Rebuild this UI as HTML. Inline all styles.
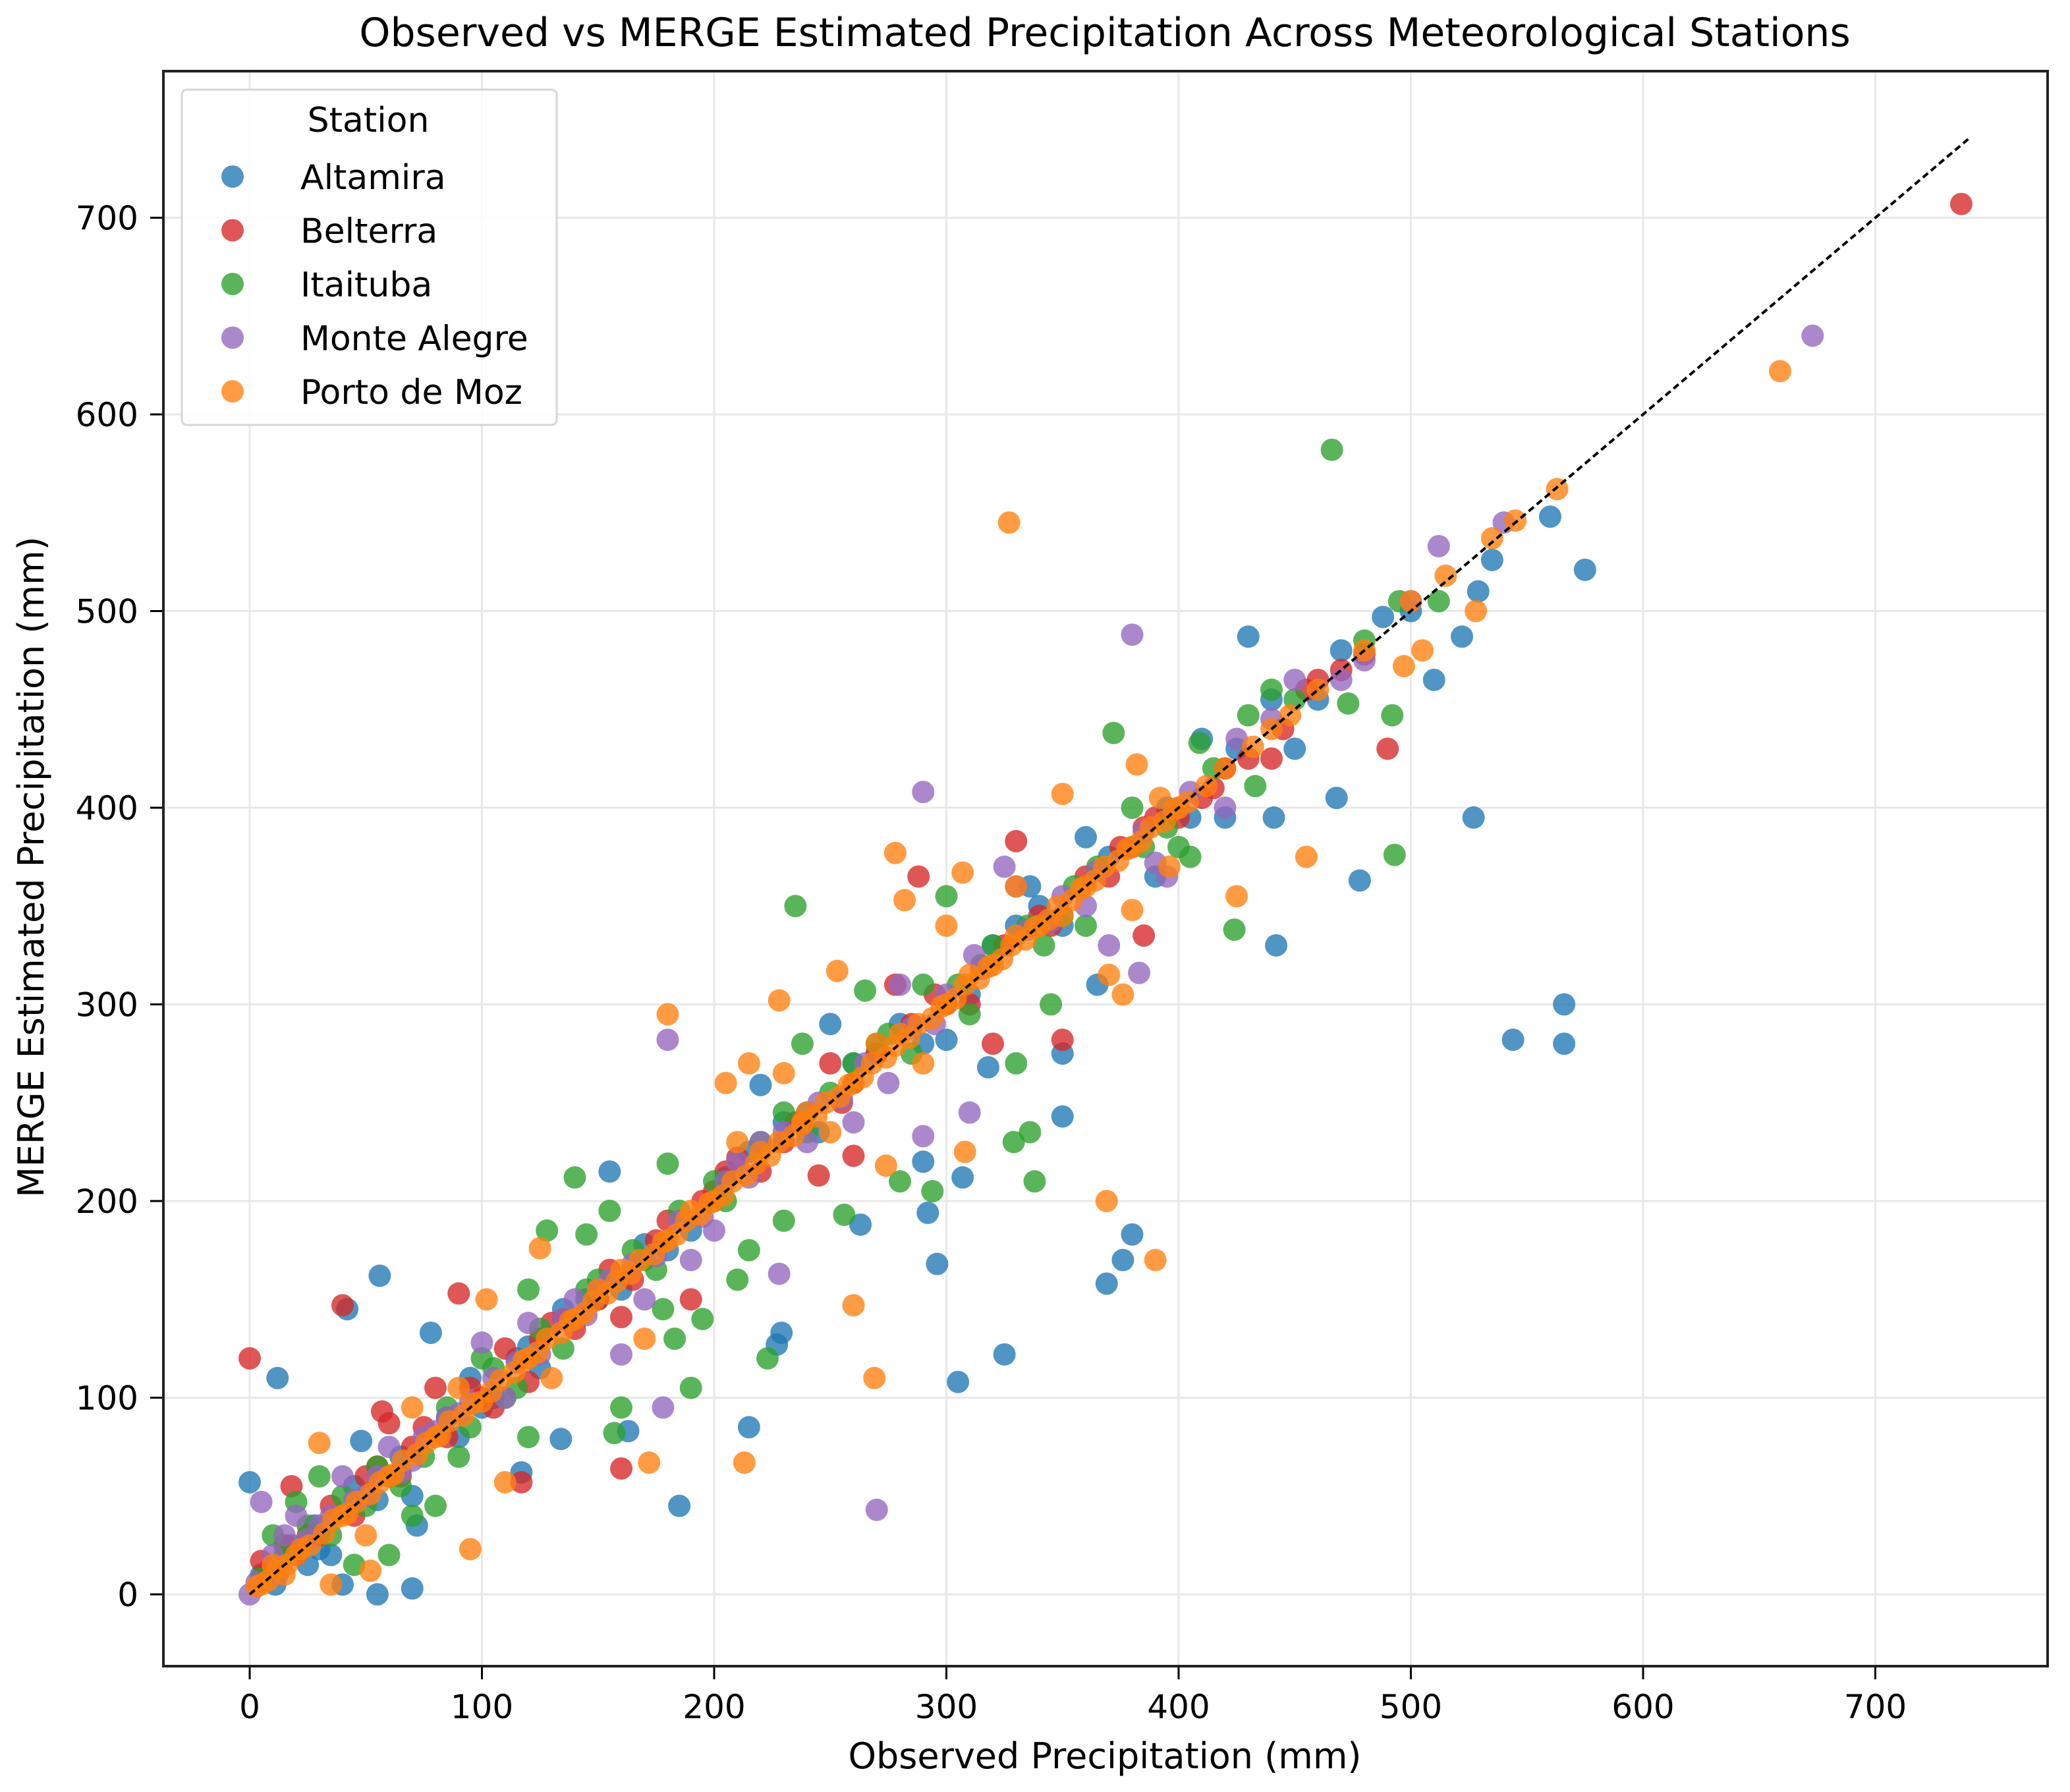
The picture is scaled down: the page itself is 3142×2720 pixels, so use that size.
<!DOCTYPE html>
<html><head><meta charset="utf-8"><style>
html,body{margin:0;padding:0;background:#fff}
svg{display:block;font-family:"DejaVu Sans","Liberation Sans",sans-serif}
</style></head><body>
<svg id="chart" width="3142" height="2720" viewBox="0 0 3142 2720" xmlns="http://www.w3.org/2000/svg">
<rect width="3142" height="2720" fill="#fff"/>
<text x="1677" y="70" font-size="60" text-anchor="middle" fill="#000">Observed vs MERGE Estimated Precipitation Across Meteorological Stations</text>
<g id="grid"></g>
<g id="marks"></g>
<g id="axes"></g>
<text x="1677" y="2684" font-size="54" text-anchor="middle" fill="#000">Observed Precipitation (mm)</text>
<text transform="translate(66,1316) rotate(-90)" font-size="54" text-anchor="middle" fill="#000">MERGE Estimated Precipitation (mm)</text>
<g id="legend"></g>
</svg>
<script>
const xTicks = [0,100,200,300,400,500,600,700];
const yTicks = [0,100,200,300,400,500,600,700];
const stations = ["Altamira","Belterra","Itaituba","Monte Alegre","Porto de Moz"];
const colors = ["#1f77b4","#d62728","#2ca02c","#9467bd","#ff7f0e"];
const altamira = [[0,57],[12,110],[42,145],[56,162],[55,0],[70,3],[185,45],[163,83],[215,85],[229,133],[227,127],[305,108],[325,122],[296,168],[263,188],[292,194],[290,220],[307,212],[369,158],[376,170],[380,183],[350,243],[350,275],[318,268],[336,360],[430,487],[442,330],[468,405],[478,363],[527,395],[544,282],[566,300],[566,280],[575,521],[560,548],[510,465],[522,487],[529,510],[535,526],[488,497],[420,395],[441,395],[365,310],[155,215],[78,133],[134,79],[117,62],[72,35],[40,5],[11,5],[30,23],[48,78],[60,60],[100,95],[120,126],[150,150],[200,200],[220,259],[240,245],[300,282],[360,385],[410,435],[450,430],[440,455],[380,380],[390,365],[330,340],[250,290],[270,275],[180,175],[90,80],[70,50],[25,15],
[5,10],[18,25],[28,35],[35,20],[45,55],[55,48],[65,70],[85,90],[95,110],[105,100],[115,120],[125,115],[135,145],[145,150],[160,155],[170,178],[190,185],[205,212],[215,225],[230,240],[245,235],[260,270],[280,290],[290,280],[310,305],[320,330],[340,350],[350,340],[370,375],[395,400],[405,395],[425,430],[460,455],[470,480],[500,500]];
const belterra = [[0,120],[40,147],[18,55],[90,153],[57,93],[160,64],[117,57],[5,17],[330,383],[288,365],[350,282],[385,335],[445,440],[490,430],[470,470],[480,478],[455,460],[420,420],[400,395],[410,405],[278,310],[320,280],[250,270],[260,223],[245,213],[210,222],[190,150],[160,141],[130,138],[100,100],[80,105],[70,75],[60,87],[50,60],[30,30],[20,20],[737,707],[430,425],[440,425],[385,390],[370,365],[340,345],[300,300],[230,230],[150,150],[110,125],[120,108],[260,260],[200,205],[175,180],
[8,12],[15,25],[25,30],[35,45],[45,40],[55,65],[65,60],[75,85],[85,80],[95,105],[105,95],[125,130],[135,140],[140,135],[155,165],[165,160],[180,190],[195,200],[205,215],[220,215],[235,240],[255,250],[270,275],[285,290],[295,305],[310,300],[325,330],[345,340],[360,365],[375,380],[390,395],[415,410],[460,465]];
const itaituba = [[466,582],[372,438],[409,433],[440,460],[430,447],[492,447],[493,376],[424,338],[433,411],[473,453],[495,505],[512,505],[235,350],[300,355],[336,235],[338,210],[329,230],[330,270],[345,300],[342,330],[280,210],[294,205],[310,295],[256,193],[238,280],[223,120],[195,140],[190,105],[183,130],[178,145],[157,82],[160,95],[140,212],[155,195],[145,183],[128,185],[120,155],[180,219],[210,160],[215,175],[230,190],[265,307],[290,310],[360,340],[380,400],[400,380],[405,375],[60,20],[45,15],[30,60],[20,47],[10,30],[70,40],[80,45],[90,70],[100,120],[110,100],[120,80],[150,160],[170,170],[200,210],[230,245],[250,255],[270,280],[320,330],[350,345],
[5,8],[15,20],[25,35],[35,30],[40,50],[50,45],[55,65],[65,55],[75,70],[85,95],[95,85],[105,115],[115,105],[125,135],[135,125],[145,155],[165,175],[175,165],[185,195],[205,200],[220,230],[240,235],[260,270],[275,285],[285,275],[305,310],[315,320],[335,340],[355,360],[365,370],[385,380],[395,390],[415,420],[450,455],[480,485]];
const monteAlegre = [[673,640],[540,545],[512,533],[380,488],[290,408],[270,43],[178,95],[160,122],[180,282],[228,163],[383,316],[370,330],[395,365],[390,372],[310,245],[290,233],[330,360],[312,325],[325,370],[280,310],[275,260],[260,240],[220,230],[200,185],[190,170],[170,150],[140,150],[120,138],[100,128],[80,83],[60,75],[40,60],[20,40],[5,47],[0,0],[10,20],[15,30],[30,35],[50,50],[70,68],[90,92],[110,100],[150,155],[210,220],[240,230],[300,305],[350,355],[400,400],[425,435],[450,465],[470,465],[480,475],[420,400],[360,350],
[3,6],[12,10],[25,28],[35,40],[45,48],[55,60],[65,62],[75,80],[85,90],[95,98],[105,110],[115,118],[125,122],[135,140],[145,142],[155,160],[165,168],[175,172],[185,190],[195,192],[205,210],[215,212],[230,235],[245,250],[255,252],[265,270],[285,288],[295,290],[315,318],[335,338],[345,342],[365,368],[385,388],[405,408],[440,445],[500,505]];
const portoDeMoz = [[659,622],[563,562],[528,500],[505,480],[497,472],[535,537],[327,545],[350,407],[382,422],[425,355],[455,375],[392,405],[396,370],[370,315],[376,305],[380,348],[369,200],[390,170],[300,340],[307,367],[278,377],[282,353],[330,360],[308,225],[274,218],[269,110],[260,147],[238,240],[228,302],[230,265],[253,317],[213,67],[172,67],[180,295],[205,260],[215,270],[125,176],[95,23],[102,150],[110,57],[52,12],[35,5],[30,77],[100,98],[140,140],[160,165],[180,180],[200,200],[220,225],[240,245],[260,260],[280,285],[300,300],[320,320],[340,340],[360,360],[380,380],[400,400],[420,420],[440,440],[460,460],[480,480],[20,20],[40,40],[60,60],[80,80],[5,5],[15,10],[10,15],[120,120],[50,30],[70,95],[90,105],[130,110],[150,155],[170,130],[190,195],[210,230],[250,235],[270,280],[290,270],[310,315],[330,335],[350,345],
[3,4],[8,7],[12,13],[16,15],[22,23],[26,25],[32,31],[36,38],[42,41],[46,47],[52,51],[56,57],[62,61],[66,68],[72,71],[76,77],[82,81],[86,88],[92,91],[96,97],[104,103],[108,109],[114,113],[118,119],[124,123],[128,130],[134,133],[138,139],[144,143],[148,149],[154,153],[158,159],[164,163],[168,170],[174,173],[178,179],[184,183],[188,190],[194,193],[198,199],[204,203],[208,210],[214,213],[218,219],[224,223],[228,230],[234,233],[238,239],[244,243],[248,250],[254,253],[258,259],[264,263],[268,270],[274,273],[278,279],[284,283],[288,290],[294,293],[298,299],[304,303],[308,310],[314,313],[318,319],[324,323],[328,330],[334,333],[338,339],[344,343],[348,350],[354,353],[358,359],[364,363],[368,370],[374,373],[378,379],[384,383],[388,390],[394,393],[398,399],[404,403],[412,411],[432,431],[448,447],[500,505],[515,518],[545,546]];
const series = [altamira, belterra, itaituba, monteAlegre, portoDeMoz];
const refLine = [0, 740];

const NS = "http://www.w3.org/2000/svg";
const L = 248, R = 3108, T = 108, B = 2529;
const sx = v => 379 + v * 3.525;
const sy = v => 2420 - v * 2.985;
function mk(tag, attrs, parent, text) {
  const e = document.createElementNS(NS, tag);
  for (const k in attrs) e.setAttribute(k, attrs[k]);
  if (text !== undefined) e.textContent = text;
  parent.appendChild(e);
  return e;
}
const grid = document.getElementById('grid');
const axes = document.getElementById('axes');
const marks = document.getElementById('marks');
xTicks.forEach(t => {
  const g = mk('line', {x1: sx(t), x2: sx(t), y1: T, y2: B, stroke: '#e8e8e8', 'stroke-width': 3}, grid);
  
  
  const tk = mk('line', {x1: sx(t), x2: sx(t), y1: B, y2: B + 20, stroke: '#000', 'stroke-width': 3}, axes);
  
  
  const lb = mk('text', {x: sx(t), y: 2608, 'font-size': 50, 'text-anchor': 'middle', fill: '#000'}, axes, String(t));
  
  
});
yTicks.forEach(t => {
  const g = mk('line', {x1: L, x2: R, y1: sy(t), y2: sy(t), stroke: '#e8e8e8', 'stroke-width': 3}, grid);
  
  
  const tk = mk('line', {x1: L - 20, x2: L, y1: sy(t), y2: sy(t), stroke: '#000', 'stroke-width': 3}, axes);
  
  
  const lb = mk('text', {x: 210, y: sy(t) + 18, 'font-size': 50, 'text-anchor': 'end', fill: '#000'}, axes, String(t));
  
  
});
series.forEach((pts, i) => {
  const g = mk('g', {fill: colors[i], 'fill-opacity': 0.78}, marks);
  
  
  pts.forEach(p => {
    const c = mk('circle', {cx: sx(p[0]), cy: sy(p[1]), r: 17}, g);
    
    
  });
});
const ln = mk('line', {x1: sx(refLine[0]), y1: sy(refLine[0]), x2: sx(refLine[1]), y2: sy(refLine[1]), stroke: '#000', 'stroke-width': 4, 'stroke-dasharray': '10 6'}, marks);


const fr = mk('rect', {x: L, y: T, width: R - L, height: B - T, fill: 'none', stroke: '#222', 'stroke-width': 4}, axes);


const lg = document.getElementById('legend');
const box = mk('rect', {x: 276, y: 136, width: 569, height: 509, rx: 8, fill: '#fff', 'fill-opacity': 0.85, stroke: '#d6d6d6', 'stroke-width': 3}, lg);


const lt = mk('text', {x: 559, y: 200, 'font-size': 52, 'text-anchor': 'middle', fill: '#000'}, lg, 'Station');


stations.forEach((s, i) => {
  const y = 268 + i * 81.5;
  const c = mk('circle', {cx: 353, cy: y, r: 17, fill: colors[i], 'fill-opacity': 0.78}, lg);
  
  
  const t = mk('text', {x: 456, y: y + 19, 'font-size': 52, fill: '#000'}, lg, s);
  
  
});
</script>
</body></html>
